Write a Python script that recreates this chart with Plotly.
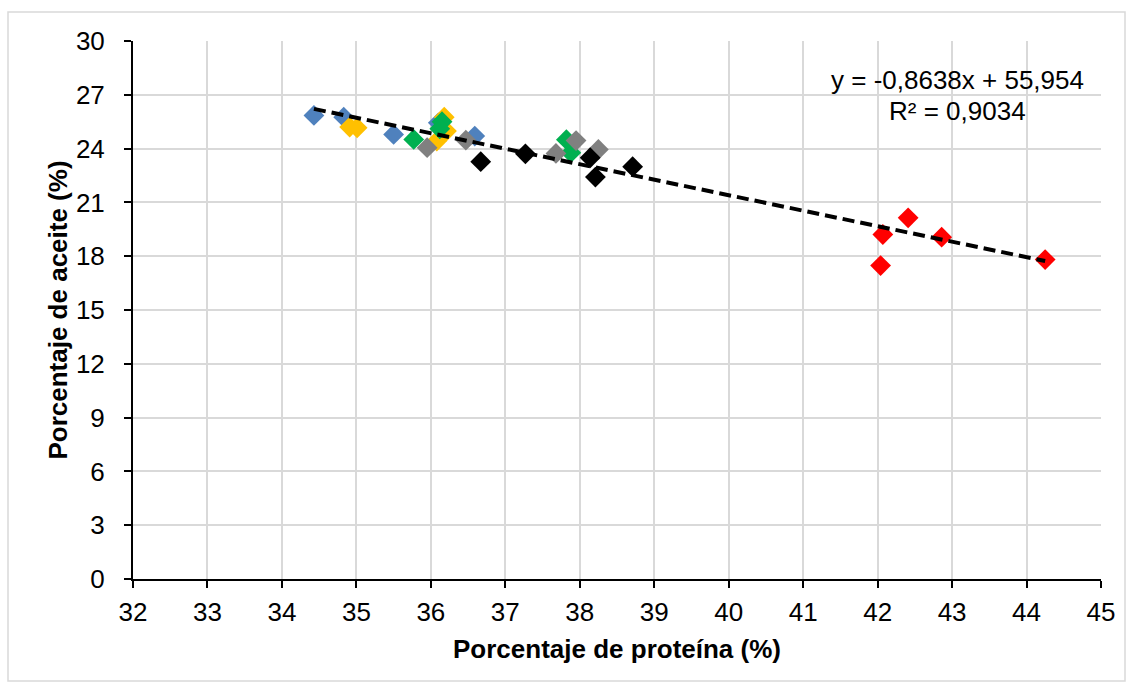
import plotly.graph_objects as go

# Data (protein %, oil %)
blue_x = [34.43, 34.83, 35.50, 36.10, 36.59]
blue_y = [25.85, 25.75, 24.79, 25.44, 24.70]
yellow_x = [34.91, 35.01, 36.18, 36.21, 36.08]
yellow_y = [25.20, 25.16, 25.75, 24.98, 24.42]
green_x = [35.77, 36.15, 36.12, 37.82, 37.88]
green_y = [24.51, 25.50, 25.10, 24.50, 23.77]
grey_x = [35.95, 36.47, 37.95, 37.68, 38.25]
grey_y = [24.05, 24.47, 24.45, 23.73, 23.95]
black_x = [36.67, 37.27, 38.14, 38.21, 38.71]
black_y = [23.27, 23.71, 23.49, 22.41, 22.99]
red_x = [42.07, 42.41, 42.04, 42.86, 44.25]
red_y = [19.21, 20.14, 17.48, 19.06, 17.81]

slope = -0.8638
intercept = 55.954
eq_text = "y = -0,8638x + 55,954"
r2_text = "R² = 0,9034"

x_ticks = list(range(32, 46))
y_ticks = list(range(0, 31, 3))

FONT = "Liberation Sans, Arial, sans-serif"
FS = 26

series = [
    (blue_x, blue_y, "#4F81BD"),
    (yellow_x, yellow_y, "#FFC000"),
    (green_x, green_y, "#00B050"),
    (grey_x, grey_y, "#808080"),
    (black_x, black_y, "#000000"),
    (red_x, red_y, "#FF0000"),
]

fig = go.Figure()
for xs, ys, col in series:
    fig.add_trace(go.Scatter(x=xs, y=ys, mode="markers",
                             marker=dict(symbol="diamond", size=16, color=col,
                                         line=dict(width=0)),
                             showlegend=False, hoverinfo="x+y"))

all_x = blue_x + yellow_x + green_x + grey_x + black_x + red_x
xmin, xmax = min(all_x), max(all_x)
fig.add_trace(go.Scatter(x=[xmin, xmax], y=[slope * xmin + intercept, slope * xmax + intercept],
                         mode="lines", line=dict(color="black", width=4, dash="12px,6px"),
                         showlegend=False, hoverinfo="skip"))

L, R, T, B = 133, 32, 41, 109
W, H = 1133, 688
pw = W - L - R
ph = H - T - B

fig.update_layout(
    width=W, height=H,
    margin=dict(l=L, r=R, t=T, b=B),
    paper_bgcolor="white", plot_bgcolor="white",
    font=dict(family=FONT, size=FS, color="black"),
    xaxis=dict(range=[32, 45], tickvals=x_ticks, showgrid=True, gridcolor="#D9D9D9", gridwidth=1.5,
               showline=True, linecolor="black", linewidth=2, ticks="outside", ticklen=7,
               tickcolor="black", tickwidth=2, zeroline=False, ticklabelstandoff=2,
               title=dict(text="<b>Porcentaje de proteína (%)</b>", font=dict(size=FS), standoff=14)),
    yaxis=dict(range=[0, 30], tickvals=y_ticks, showgrid=True, gridcolor="#D9D9D9", gridwidth=1.5,
               showline=True, linecolor="black", linewidth=2, ticks="outside", ticklen=7,
               tickcolor="black", tickwidth=2, zeroline=False, ticklabelstandoff=14,
               title=dict(text="<b>Porcentaje de aceite (%)</b>", font=dict(size=FS), standoff=1)),
)

# equation annotations
fig.add_annotation(x=(957 - L) / pw, y=(H - B - 80) / ph, xref="paper", yref="paper",
                   text=eq_text, showarrow=False, font=dict(size=FS), xanchor="center", yanchor="middle")
fig.add_annotation(x=(957 - L) / pw, y=(H - B - 111) / ph, xref="paper", yref="paper",
                   text=r2_text, showarrow=False, font=dict(size=FS), xanchor="center", yanchor="middle")

# outer chart border
fig.add_shape(type="rect", xref="paper", yref="paper",
              x0=(8 - L) / pw, x1=(1125 - L) / pw,
              y0=(H - B - 681) / ph, y1=(H - B - 12) / ph,
              line=dict(color="#D9D9D9", width=1.5), fillcolor="rgba(0,0,0,0)", layer="below")

fig.write_html("out.html")
